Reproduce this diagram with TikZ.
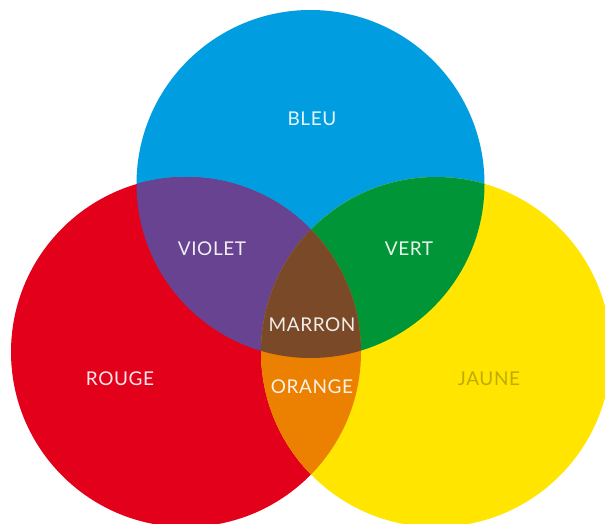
\documentclass[tikz,border=0pt]{standalone}
\usepackage{fontspec}
\setmainfont{Lato}[LetterSpace=3]
\definecolor{cbleu}{RGB}{0,158,224}
\definecolor{crouge}{RGB}{226,0,26}
\definecolor{cjaune}{RGB}{255,229,0}
\definecolor{cviolet}{RGB}{104,67,145}
\definecolor{cvert}{RGB}{0,150,56}
\definecolor{cmarron}{RGB}{122,74,40}
\definecolor{corange}{RGB}{236,128,0}
\definecolor{cjtext}{RGB}{185,165,0}
\tikzset{
  lbl/.style={text=white, text opacity=0.9, font=\fontsize{19}{19}\selectfont, inner sep=0pt},
}
\begin{document}
\begin{tikzpicture}[x=1pt,y=1pt]
\useasboundingbox (0,0) rectangle (605,523);
\fill[white] (0,0) rectangle (605,523);
\clip (0,0) rectangle (605,523);
\fill[cbleu] (310.5,339) circle (174);
\fill[crouge] (186,171) circle (175);
\fill[cjaune] (436,171) circle (175);
\begin{scope}
  \clip (310.5,339) circle (174);
  \fill[cviolet] (186,171) circle (175);
  \fill[cvert] (436,171) circle (175);
  \clip (186,171) circle (175);
  \fill[cmarron] (436,171) circle (175);
\end{scope}
\begin{scope}
  \clip (186,171) circle (175);
  \clip (436,171) circle (175);
  \fill[corange] (0,0) rectangle (605,339);
  \clip (310.5,339) circle (174);
  \fill[cmarron] (0,0) rectangle (605,523);
\end{scope}
\node[lbl] (bleu) at (312,404) {BLEU};
\node[lbl] (violet) at (212,274) {VIOLET};
\node[lbl] (vert) at (409,274) {VERT};
\node[lbl] (marron) at (312,198) {MARRON};
\node[lbl] (rouge) at (120,144) {ROUGE};
\node[lbl] (orange) at (312,136) {ORANGE};
\node[lbl, text=cjtext] (jaune) at (489,144) {JAUNE};
\end{tikzpicture}
\end{document}
